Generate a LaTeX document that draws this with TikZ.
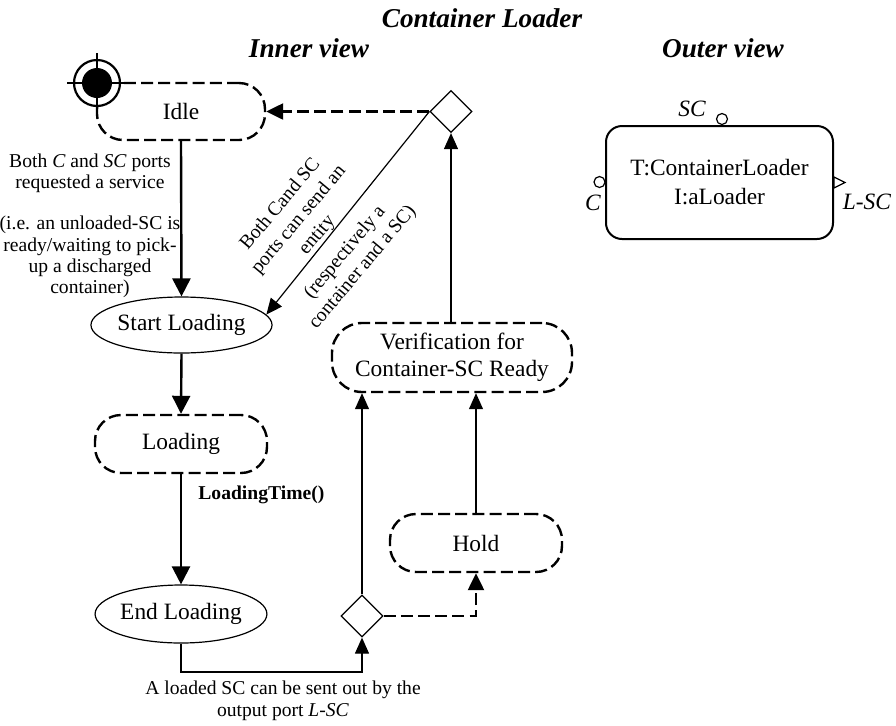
\documentclass[tikz,border=0pt]{standalone}
\usepackage{fontspec}
\setmainfont{Liberation Serif}
\usetikzlibrary{arrows.meta,shapes.geometric}
\newcommand\mainsz{\fontsize{11.7}{13.5}\selectfont}
\newcommand\smallsz{\fontsize{9.8}{10.6}\selectfont}
\newcommand\titlesz{\fontsize{13.6}{16}\selectfont\bfseries\itshape}
\tikzset{
  dashbox/.style={draw, line width=1.2pt, dash pattern=on 6pt off 2.6pt, rounded corners=13pt,
    inner sep=0pt, align=center, font=\mainsz},
  ellnode/.style={draw, ellipse, line width=0.6pt, inner sep=0pt, font=\mainsz},
  decision/.style={draw, diamond, line width=0.6pt, inner sep=0pt, minimum width=21pt, minimum height=21pt},
  thickarrow/.style={line width=1.2pt, -{Triangle[length=9pt,width=9pt]}},
  thinarrow/.style={line width=0.6pt, -{Triangle[length=8pt,width=7pt]}},
  dasharrow/.style={line width=1.2pt, dash pattern=on 6pt off 2.6pt, -{Triangle[length=8.5pt,width=8pt]}},
  note/.style={align=center, font=\smallsz, inner sep=0pt},
  ttl/.style={font=\titlesz, inner sep=0pt},
  port/.style={draw, circle, line width=0.6pt, inner sep=0pt, minimum size=5.5pt, fill=white},
}
\begin{document}
\begin{tikzpicture}[x=0.5pt,y=-0.5pt]
\useasboundingbox (0,0) rectangle (896,725);

% titles
\node[ttl] (title) at (482,18) {Container Loader};
\node[ttl] (inner) at (309,48) {Inner view};
\node[ttl] (outer) at (723,48) {Outer view};

% inner view nodes
\node[dashbox, minimum width=84pt, minimum height=28.5pt] (idle) at (181,111.5) {Idle};
\node[ellnode, minimum width=85pt, minimum height=28pt] (sl) at (181.5,325) {Start Loading};
\node[dashbox, minimum width=86pt, minimum height=29pt] (load) at (181,444) {Loading};
\node[ellnode, minimum width=84pt, minimum height=29pt] (el) at (181,614) {End Loading};
\node[decision] (d1) at (451,111.5) {};
\node[decision] (d2) at (362,616) {};
\node[dashbox, minimum width=120pt, minimum height=34.5pt, rounded corners=15pt] (ver) at (452,357.5)
  {\fontsize{11.7}{13.5}\selectfont Verification for\\Container-SC Ready};
\node[dashbox, minimum width=86pt, minimum height=29pt] (hold) at (476,543) {Hold};

% initial state symbol
\coordinate (init) at (97,83);
\draw[line width=1.1pt, fill=white] (init) circle (11.5pt);
\fill (init) circle (7.5pt);
\draw[line width=1.1pt] ([xshift=-15pt]init) -- ([xshift=15pt]init);
\draw[line width=1.1pt] ([yshift=15pt]init) -- ([yshift=-15pt]init);

% connectors
\draw[thickarrow] (idle.south) -- (sl.north);
\draw[thickarrow] (sl.south) -- (load.north);
\draw[thickarrow] (load.south) -- (el.north);
\coordinate (c1) at (181,672);
\draw[thinarrow] (el.south) -- (c1) -| (d2.south);
\draw[thinarrow] (d2.north) -- (d2.north |- ver.south);
\draw[dasharrow] (d2.east) -| (hold.south);
\draw[thinarrow] (hold.north) -- (hold.north |- ver.south);
\draw[thinarrow] (d1.south |- ver.north) -- (d1.south);
\draw[dasharrow] (d1.west) -- (idle.east);
\draw[thinarrow] (d1.west) -- (sl.7);

% annotations
\node[note] (n1) at (90,173) {Both \textit{C} and \textit{SC} ports\\requested a service};
\node[note] (n2) at (90,257) {(i.e. an unloaded-SC is\\ready/waiting to pick-\\up a discharged\\container)};
\node[note, font=\fontsize{9.8}{12}\selectfont, rotate=50] (n3) at (299,220) {Both Cand SC\\ports can send an\\entity};
\node[note, font=\fontsize{9.8}{11.5}\selectfont, rotate=50] (n4) at (354,260) {(respectively a\\container and a SC)};
\node[note, font=\bfseries\smallsz, anchor=west] (lt) at (198,495) {LoadingTime()};
\node[note, font=\fontsize{9.8}{11}\selectfont] (n5) at (283,701) {A loaded SC can be sent out by the\\output port \textit{L-SC}};

% outer view
\node[draw, line width=1pt, rounded corners=8pt, minimum width=113.5pt, minimum height=56.5pt,
  inner sep=0pt, align=center, font=\fontsize{11.7}{14.5}\selectfont] (box) at (719.5,182.5)
  {T:ContainerLoader\\I:aLoader};
\node[port] (psc) at (722,119) {};
\node[port] (pc) at (599.5,182) {};
\draw[line width=0.6pt, fill=white] (834,177) -- (845,182.5) -- (834,188) -- cycle;
\node[font=\mainsz\itshape, inner sep=0pt] (lsc) at (692,109) {SC};
\node[font=\mainsz\itshape, inner sep=0pt] (lc) at (593,203) {C};
\node[font=\mainsz\itshape, inner sep=0pt] (llsc) at (867,202) {L-SC};
\end{tikzpicture}
\end{document}
